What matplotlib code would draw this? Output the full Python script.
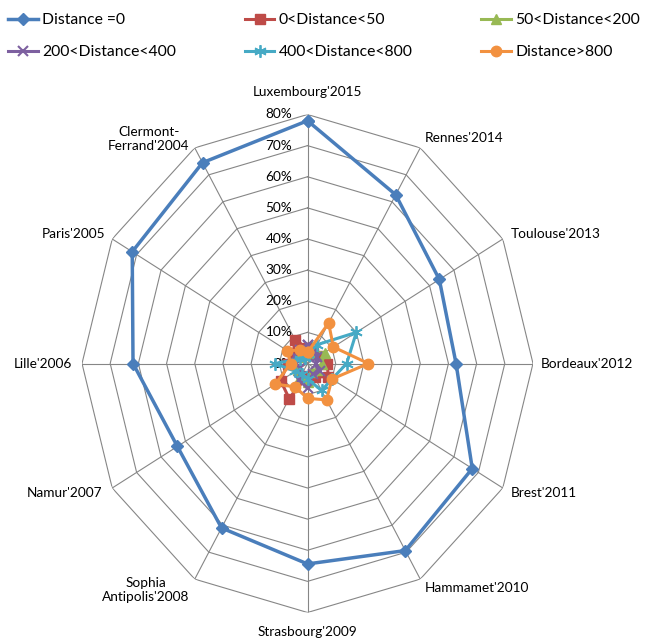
import numpy as np
import matplotlib
matplotlib.use('Agg')
import matplotlib.pyplot as plt

plt.rcParams['font.family'] = ['Lato', 'DejaVu Sans']

categories = ["Luxembourg'2015", "Rennes'2014", "Toulouse'2013", "Bordeaux'2012",
              "Brest'2011", "Hammamet'2010", "Strasbourg'2009", "Sophia\nAntipolis'2008",
              "Namur'2007", "Lille'2006", "Paris'2005", "Clermont-\nFerrand'2004"]

series_names = ["Distance =0", "0<Distance<50", "50<Distance<200",
                "200<Distance<400", "400<Distance<800", "Distance>800"]

dist_0 = [78, 62.6, 54, 52.7, 67.5, 69.4, 64.4, 61, 53.3, 61.9, 71.8, 74.5]
dist_0_50 = [5, 4, 5, 7, 8.5, 5, 4, 13, 11, 7, 6, 8.7]
dist_50_200 = [3, 4, 7, 5, 4, 3, 6, 5, 4, 5, 4, 3]
dist_200_400 = [6, 5, 4, 3, 5, 4, 8, 6, 3, 4, 5, 5]
dist_400_800 = [3, 7, 20, 13.9, 10, 10, 5, 4, 5, 11.5, 3, 2]
dist_gt_800 = [3.6, 15, 10.6, 21.6, 10, 13.5, 11.2, 8.7, 13.2, 6, 8.2, 5]

radial_ticks = [0, 10, 20, 30, 40, 50, 60, 70, 80]

all_series = [dist_0, dist_0_50, dist_50_200, dist_200_400, dist_400_800, dist_gt_800]
colors = ['#4A7EBB', '#BE4B48', '#98B954', '#7D60A0', '#46AAC5', '#F29140']
markers = ['D', 's', '^', 'x', (6, 2, 0), 'o']
msizes = [6, 7, 7.5, 7, 9, 7.5]
mews = [1, 1, 1, 1.5, 1.3, 1]
lws = [2.5, 2.2, 2.2, 2.2, 2.2, 2.2]

W, H = 647, 641
fig = plt.figure(figsize=(W / 100, H / 100), dpi=100)
cx, cy, rx, ry = 307.5, 363.5, 225.5, 249
ax = fig.add_axes([(cx - rx) / W, (H - cy - ry) / H, 2 * rx / W, 2 * ry / H],
                  projection='polar')
ax.set_theta_zero_location('N')
ax.set_theta_direction(-1)
ax.set_aspect('auto')
ax.set_ylim(0, 80)
ax.axis('off')

n = len(categories)
theta = np.arange(n) * 2 * np.pi / n
theta_c = np.append(theta, theta[0])

grid_col = '#868686'
for r in radial_ticks[1:]:
    ax.plot(theta_c, [r] * (n + 1), color=grid_col, lw=0.8, zorder=1)
for t in theta:
    ax.plot([t, t], [0, 80], color=grid_col, lw=0.8, zorder=1)

fs = 9.8
for r in radial_ticks:
    ax.annotate(f"{r}%", xy=(0, r), xytext=(-15, 0), textcoords='offset pixels',
                ha='right', va='center', fontsize=fs, zorder=2)

offsets = [(0, 22, 'center'), (5, 10, 'left'), (8, 5, 'left'), (8, 0, 'left'),
           (8, -5, 'left'), (5, -9, 'left'), (0, -20, 'center'), (-5, -11, 'right'),
           (-10, -5, 'right'), (-10, 0, 'right'), (-7, 5, 'right'), (-5, 9, 'right')]
for t, lab, (dx, dy, ha) in zip(theta, categories, offsets):
    ax.annotate(lab, xy=(t, 80), xytext=(dx, dy), textcoords='offset pixels',
                ha=ha, va='center', multialignment='center', fontsize=fs,
                annotation_clip=False)

handles = []
for vals, c, m, ms, mew, lw, name in zip(all_series, colors, markers, msizes, mews,
                                          lws, series_names):
    v = np.append(vals, vals[0])
    ln, = ax.plot(theta_c, v, color=c, lw=lw, marker=m, markersize=ms,
                  markeredgewidth=mew, markeredgecolor=c, markerfacecolor=c,
                  zorder=3, clip_on=False, label=name)
    handles.append(ln)

order = [0, 3, 1, 4, 2, 5]
fig.legend([handles[i] for i in order], [series_names[i] for i in order],
           loc='upper left', bbox_to_anchor=(8 / W, 1 - 13 / H), ncol=3,
           frameon=False, fontsize=11.3, handlelength=1.9, handletextpad=0.25,
           columnspacing=4.4, labelspacing=1.15, borderaxespad=0, borderpad=0)

fig.savefig('out.png', dpi=100)
